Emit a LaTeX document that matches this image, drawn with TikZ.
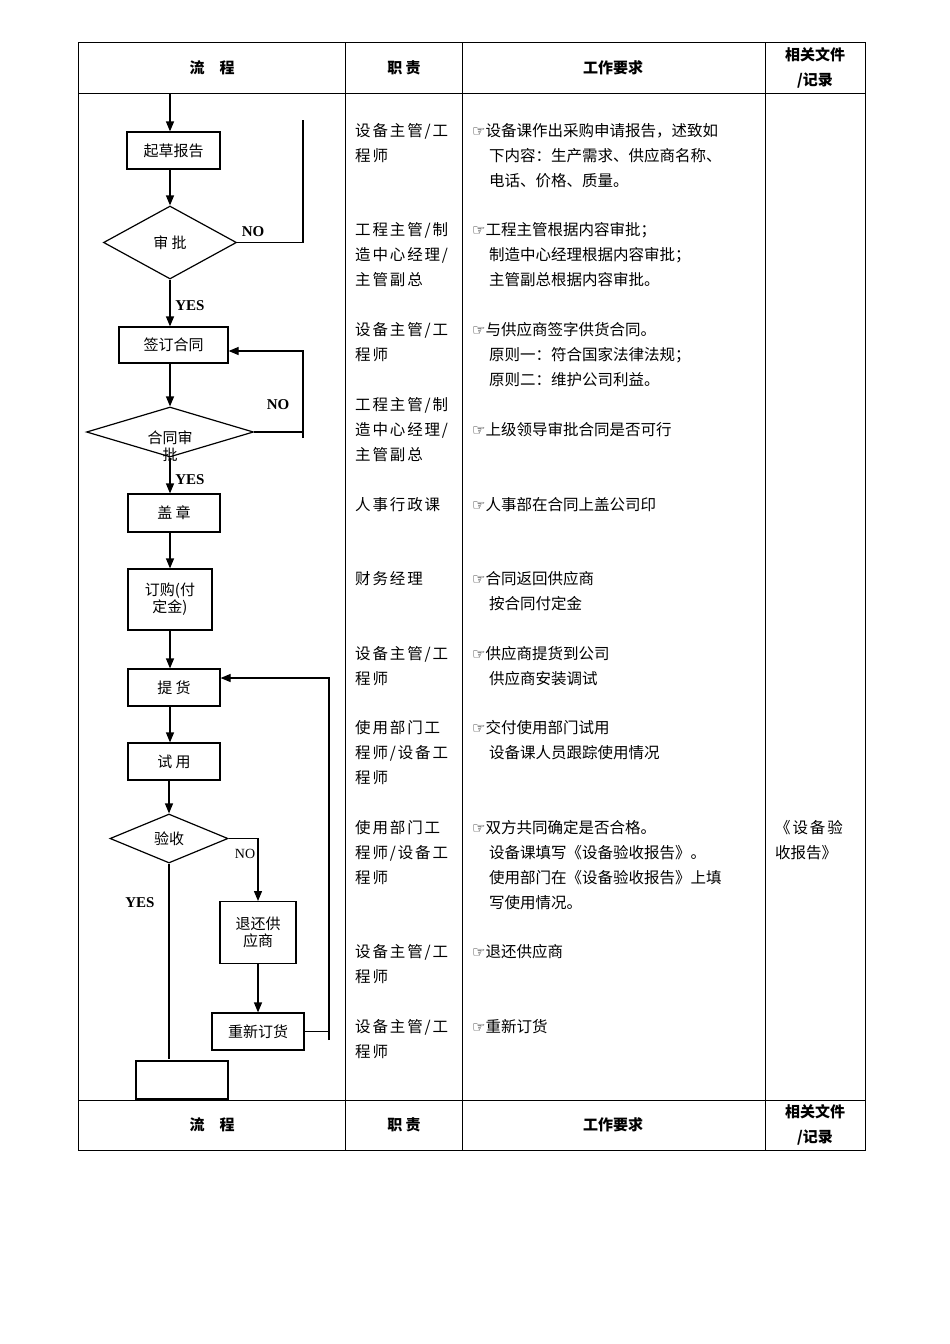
\documentclass[tikz,border=0pt]{standalone}
\usepackage{fontspec}
\setmainfont{Noto Sans CJK SC}
\newfontfamily\lat{Liberation Serif}
\newfontfamily\sym{DejaVu Sans}
\newfontfamily\wide[LetterSpace=12]{Noto Sans CJK SC}
\usetikzlibrary{shapes.geometric,arrows.meta}
\begin{document}
\begin{tikzpicture}[x=1pt,y=-1pt,
  box/.style={draw,line width=1.2pt,minimum width=#1,inner sep=0pt,align=center,font=\fontsize{15}{17}\selectfont},
  dia/.style={draw,line width=1.2pt,diamond,aspect=#1,inner sep=0pt,font=\fontsize{15}{17}\selectfont},
  arr/.style={line width=1.2pt,-{Triangle[length=10pt,width=8pt]}},
  ln/.style={line width=1.2pt},
  hd/.style={font=\fontsize{15}{25}\selectfont\bfseries,align=center},
  tx/.style={anchor=west,inner sep=0pt,font=\fontsize{15.5}{16}\selectfont},
  tw/.style={anchor=west,inner sep=0pt,font=\wide\fontsize{15.5}{16}\selectfont},
  yn/.style={font=\lat\fontsize{15}{16}\selectfont\bfseries}]
\useasboundingbox (0,0) rectangle (950,1344);
\fill[white] (0,0) rectangle (950,1344);
% table
\draw[line width=1pt] (78,42) rectangle (865,1150);
\foreach \yy in {93,1100} \draw[line width=1pt] (78,\yy) -- (865,\yy);
\foreach \xx in {345,462,765} \draw[line width=1pt] (\xx,42) -- (\xx,1150);
\foreach \yy/\n in {68/a,1125/b}{
 \node[hd] (h1\n) at (212,\yy) {流　程};
 \node[hd] (h2\n) at (404,\yy) {职 责};
 \node[hd] (h3\n) at (613,\yy) {工作要求};
 \node[hd] (h4\n) at (815,\yy) {相关文件\\/记录};}
% flow nodes
\coordinate (top) at (170,93);
\node[box=93pt,minimum height=37pt] (b1) at (173.5,150.5) {起草报告};
\node[dia=1.82,minimum width=133pt,minimum height=73pt] (d1) at (170,242.5) {审 批};
\node[box=109pt,minimum height=36pt] (b2) at (173.5,345) {签订合同};
\node[dia=3.34,minimum width=167pt,minimum height=50pt] (d2) at (170,432) {};
\node[inner sep=0pt,align=center,font=\fontsize{15}{17}\selectfont] (d2t) at (170,446) {合同审\\批};
\node[box=92pt,minimum height=38pt] (b3) at (174,513) {盖 章};
\node[box=84pt,minimum height=61pt,font=\fontsize{15}{17}\selectfont] (b4) at (170,599.5) {订购(付\\定金)};
\node[box=92pt,minimum height=37pt] (b5) at (174,687.5) {提 货};
\node[box=92pt,minimum height=37pt] (b6) at (174,761.5) {试 用};
\node[dia=2.4,minimum width=118pt,minimum height=49pt] (d3) at (169,838.5) {验收};
\node[box=76pt,minimum height=62pt,font=\fontsize{15}{17}\selectfont,anchor=north] (b7) at (258,901) {退还供\\应商};
\node[box=92pt,minimum height=37pt] (b8) at (258,1031.5) {重新订货};
\node[box=92pt,minimum height=38pt] (b9) at (182,1080) {};
% connectors
\draw[arr] (top) -- (b1.north -| top);
\draw[arr] (b1.south -| top) -- (d1.north);
\coordinate (n1a) at (303,242.5); \coordinate (n1b) at (303,120);
\draw[ln] (d1.east) -- (n1a) -- (n1b);
\draw[arr] (d1.south) -- (b2.north -| d1.south);
\draw[arr] (b2.south -| d2.north) -- (d2.north);
\coordinate (n2a) at (303,432); \coordinate (n2b) at (303,351); \coordinate (n2c) at (303,438);
\draw[ln] (d2.east) -- (n2a); \draw[ln] (n2c) -- (n2a);
\draw[arr] (n2a) -- (n2b) -- (b2.east |- n2b);
\draw[arr] (d2.south) -- (b3.north -| d2.south);
\draw[arr] (b3.south -| d2.south) -- (b4.north -| d2.south);
\draw[arr] (b4.south -| d2.south) -- (b5.north -| d2.south);
\draw[arr] (b5.south -| d2.south) -- (b6.north -| d2.south);
\draw[arr] (b6.south -| d3.north) -- (d3.north);
\coordinate (n3) at (258,838.5);
\draw[arr] (d3.east) -- (n3) -- (b7.north);
\draw[arr] (b7.south) -- (b8.north);
\coordinate (r1) at (329,1031.5); \coordinate (r2) at (329,678); \coordinate (r3) at (329,1040);
\draw[ln] (b8.east) -- (r1); \draw[ln] (r3) -- (r1);
\draw[arr] (r1) -- (r2) -- (b5.east |- r2);
\coordinate (yb) at (169,1059);
\draw[ln] (d3.south) -- (yb);
% labels
\node[yn] (l1) at (253,232) {NO};
\node[yn] (l2) at (190,306) {YES};
\node[yn] (l3) at (278,405) {NO};
\node[yn] (l4) at (190,480) {YES};
\node[font=\lat\fontsize{14}{16}\selectfont] (l5) at (245,854) {NO};
\node[yn] (l6) at (140,903) {YES};
% column 2
\newcommand\colb[2]{\foreach \t [count=\i from 0] in {#2} \node[tw] at (355,#1+25*\i) {\t};}
\colb{131}{设备主管/工,程师}
\colb{230}{工程主管/制,造中心经理/,主管副总}
\colb{330}{设备主管/工,程师}
\colb{405}{工程主管/制,造中心经理/,主管副总}
\colb{505}{人事行政课}
\colb{579}{财务经理}
\colb{654}{设备主管/工,程师}
\colb{728}{使用部门工,程师/设备工,程师}
\colb{828}{使用部门工,程师/设备工,程师}
\colb{952}{设备主管/工,程师}
\colb{1027}{设备主管/工,程师}
% column 3
\newcommand\colc[3]{\node[tx] at (472,#1) {{\sym\fontsize{15}{16}\selectfont ☞}#2};
 \foreach \t [count=\i] in {#3} \node[tx] at (489,#1+25*\i) {\t};}
\colc{131}{设备课作出采购申请报告，述致如}{下内容：生产需求、供应商名称、,电话、价格、质量。}
\colc{230}{工程主管根据内容审批；}{制造中心经理根据内容审批；,主管副总根据内容审批。}
\colc{330}{与供应商签字供货合同。}{原则一：符合国家法律法规；,原则二：维护公司利益。}
\colc{430}{上级领导审批合同是否可行}{}
\colc{505}{人事部在合同上盖公司印}{}
\colc{579}{合同返回供应商}{按合同付定金}
\colc{654}{供应商提货到公司}{供应商安装调试}
\colc{728}{交付使用部门试用}{设备课人员跟踪使用情况}
\colc{828}{双方共同确定是否合格。}{设备课填写《设备验收报告》。,使用部门在《设备验收报告》上填,写使用情况。}
\colc{952}{退还供应商}{}
\colc{1027}{重新订货}{}
% column 4
\node[tw] at (775,828) {《设备验};
\node[tx] at (775,853) {收报告》};
\end{tikzpicture}
\end{document}
